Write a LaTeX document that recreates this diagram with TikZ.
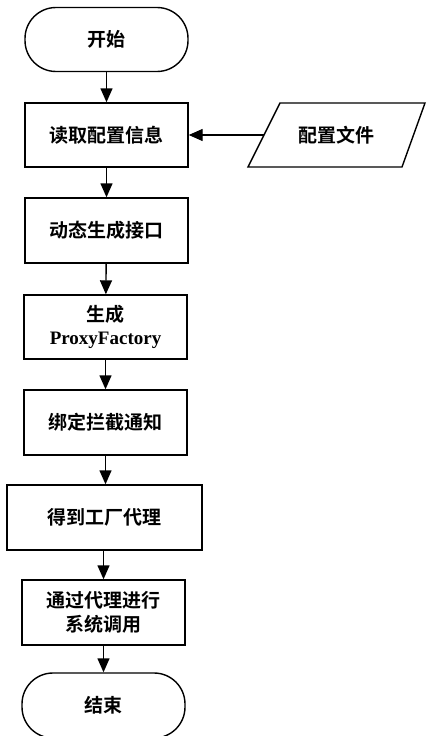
\documentclass[tikz,border=0pt]{standalone}
\usepackage{fontspec}
\setmainfont{Liberation Serif}
\newfontfamily\cjk{Noto Sans CJK SC Bold}
\usetikzlibrary{arrows.meta}
\begin{document}
\begin{tikzpicture}[x=1pt,y=1pt,
  box/.style={draw,line width=1.4pt,minimum width=163pt,minimum height=64pt,inner sep=0pt,align=center,font=\cjk\fontsize{19}{24}\selectfont},
  term/.style={box,rounded corners=31pt},
  arr/.style={line width=1.4pt,-{Triangle[width=12pt,length=14pt]}}]
\useasboundingbox (0,0) rectangle (426,-736);
\node[term] (start) at (106.5,-39.5) {开始};
\node[box] (read) at (106.5,-135) {读取配置信息};
\node[box,minimum height=65pt] (dyn) at (106.5,-230.5) {动态生成接口};
\node[box] (gen) at (105.5,-327) {生成\\[-1pt]{\rmfamily\bfseries\fontsize{19}{24}\selectfont ProxyFactory}};
\node[box,minimum height=65pt] (bind) at (105.5,-422.5) {绑定拦截通知};
\node[box,minimum width=195pt,minimum height=65pt] (get) at (104.5,-517.5) {得到工厂代理};
\node[box,minimum height=65pt] (call) at (103.5,-612.5) {通过代理进行\\系统调用};
\node[term,minimum height=65pt] (end) at (103.5,-705.5) {结束};
\node[font=\cjk\fontsize{19}{24}\selectfont] (file) at (336,-135) {配置文件};
\draw[line width=1.4pt] (280,-103) -- (425,-103) -- (402,-167) -- (248,-167) -- cycle;
\coordinate (fileL) at (264,-135);
\draw[arr] (fileL) -- (read.east);
\draw[arr] (start) -- (read);
\draw[arr] (read) -- (dyn);
\draw[arr] (dyn) -- (gen);
\draw[arr] (gen) -- (bind);
\draw[arr] (bind.south) -- (bind.south |- get.north);
\draw[arr] (get.south -| call.north) -- (call.north);
\draw[arr] (call) -- (end);
\end{tikzpicture}
\end{document}
